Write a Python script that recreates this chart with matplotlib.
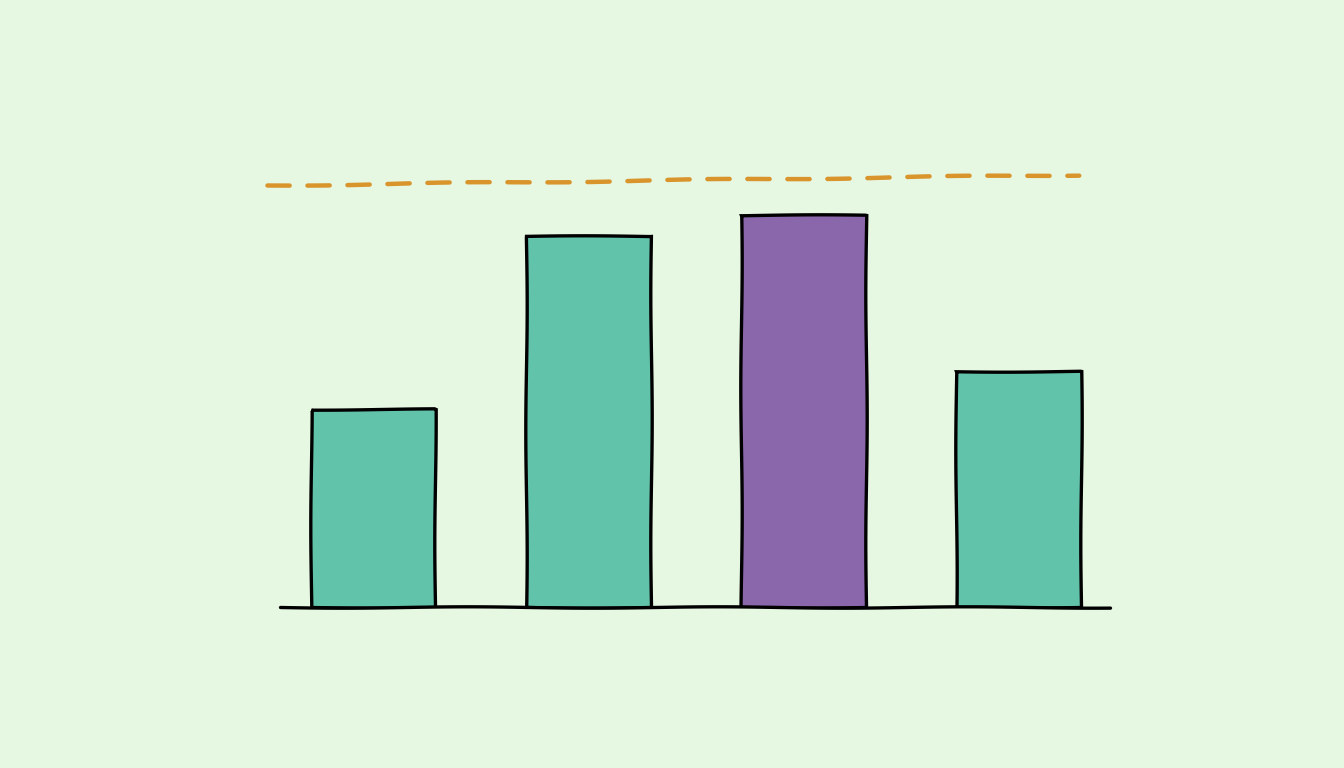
import matplotlib
matplotlib.use("Agg")
import matplotlib.pyplot as plt

categories = ["A", "B", "C", "D"]
values = [47, 88, 93, 56]
highlight = [False, False, True, False]
target_x = [-0.49, 3.28]
target_y = [100.0, 102.5]

bg = "#e6f7e2"
teal = "#62c3ab"
purple = "#8a66ab"
orange = "#d9952c"

fig = plt.figure(figsize=(13.44, 7.68), dpi=100, facecolor=bg)
ax = fig.add_axes([0.2083, 0.2096, 0.6176, 0.5763])
ax.set_facecolor(bg)

x = list(range(len(categories)))
colors = [purple if h else teal for h in highlight]
with plt.rc_context({"path.sketch": (0.7, 250, 1)}):
    ax.bar(x, values, width=0.58, color=colors, edgecolor="black", linewidth=2.4, zorder=3)
    ax.plot(target_x, target_y, color=orange, linewidth=3.2, dashes=(5, 4),
            dash_capstyle="round", clip_on=False, zorder=2)
    ax.plot([-0.432, 3.423], [0, 0], color="black", linewidth=2.4,
            solid_capstyle="round", clip_on=False, zorder=5)

ax.set_xlim(-0.432, 3.423)
ax.set_ylim(0, 105)
for s in ax.spines.values():
    s.set_visible(False)
ax.set_xticks([])
ax.set_yticks([])

fig.savefig("out.png", dpi=100, facecolor=bg)
